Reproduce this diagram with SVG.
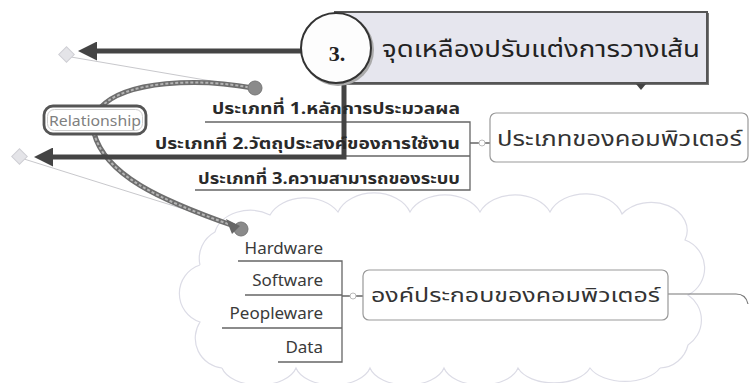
<svg xmlns="http://www.w3.org/2000/svg" width="750" height="383" viewBox="0 0 750 383">
<style>
.thai{font-family:"Noto Sans Thai","Noto Sans","DejaVu Sans",sans-serif}
.item{font-size:16px;font-weight:bold;fill:#2a2a2a}
.sub{font-family:"Noto Sans","Open Sans",sans-serif;font-size:17px;fill:#3a3a3a}
.uline{stroke:#666;stroke-width:1.3;fill:none}
.ctrl{stroke:#c8c8cc;stroke-width:1;fill:none}
.node{fill:#fff;stroke:#999;stroke-width:1.2}
.big{stroke:#444;stroke-width:5;fill:none}
.cl{fill:none;stroke:#dcdce6;stroke-width:1.2}
.rel{fill:none;stroke:#6e6e6e;stroke-width:5}
.reld{fill:none;stroke:#b5b5b5;stroke-width:2;stroke-dasharray:3 2}
</style>
<defs>
<marker id="ah" viewBox="0 0 10 10" refX="0" refY="5" markerWidth="4.2" markerHeight="3.8" orient="auto" markerUnits="strokeWidth">
<path d="M0,0 L10,5 L0,10 Z" fill="#444"/>
</marker>
</defs>
<g id="cloud">
<path class="cl" d="M215,232 A36,28 0 0 1 270,215 A38,28 0 0 1 338,212 A38,28 0 0 1 410,212 A38,28 0 0 1 480,212 A38,28 0 0 1 550,212 A38,28 0 0 1 622,214 A36,28 0 0 1 685,240 A30,30 0 0 1 688,295 A30,30 0 0 1 688,345 A30,30 0 0 1 660,368 M200,265 A30,30 0 0 1 215,232 M200,265 A30,30 0 0 0 200,322 A30,30 0 0 0 222,368"/>
<path class="cl" d="M222,368 A38,22 0 0 0 296,368 A38,22 0 0 0 370,368 A38,22 0 0 0 444,368 A38,22 0 0 0 518,368 A38,22 0 0 0 590,368 A38,22 0 0 0 660,368"/>
</g>
<g id="connectors">
<line class="ctrl" x1="71" y1="57" x2="252" y2="88"/>
<line class="ctrl" x1="24" y1="159" x2="238" y2="226"/>
<path d="M205,122 H470 V190 H195 M150,156 H470 M470,143 H490" class="uline"/>
<path d="M238,261 H342 V362 H278 M245,295 H342 M222,328 H342 M342,296 H363" class="uline"/>
<path d="M668,294 H736 Q746,294 748,304" fill="none" stroke="#777" stroke-width="1.2"/>
<circle cx="482" cy="143" r="3" fill="#fff" stroke="#bbb"/>
<circle cx="353" cy="296" r="3" fill="#fff" stroke="#bbb"/>
<path class="rel" d="M253,88 C200,78 125,80 100,108"/>
<path class="reld" d="M253,88 C200,78 125,80 100,108"/>
<path class="rel" d="M94,133 C105,175 160,200 234,226"/>
<path class="reld" d="M94,133 C105,175 160,200 234,226"/>
<circle cx="255" cy="88" r="7" fill="#8a8a8a" stroke="#777"/>
<circle cx="241" cy="229" r="7" fill="#8a8a8a" stroke="#777"/>
<path d="M226,219 L240,226 L232,234 Z" fill="#666"/>
<path d="M302,51 H97" class="big" marker-end="url(#ah)"/>
<path d="M344,84 V157 H53" class="big" marker-end="url(#ah)"/>
<rect x="61" y="49" width="11" height="11" transform="rotate(45 66.5 54.5)" fill="#e4e4e8" stroke="#cfcfd4"/>
<rect x="14" y="151" width="11" height="11" transform="rotate(45 19.5 156.5)" fill="#e4e4e8" stroke="#cfcfd4"/>
</g>
<g id="relationship">
<rect x="44" y="106" width="102" height="28" rx="9" fill="#fff" stroke="#555" stroke-width="2.8"/>
<rect x="47.5" y="109.5" width="95" height="21" rx="7" fill="none" stroke="#ccc" stroke-width="1"/>
<text x="95" y="125.5" text-anchor="middle" font-family="Noto Sans,sans-serif" font-size="15" fill="#808080" textLength="92" lengthAdjust="spacingAndGlyphs">Relationship</text>
</g>
<g id="callout">
<rect x="336" y="13" width="373" height="72" fill="#777"/>
<rect x="335" y="12" width="372" height="71" fill="#e6e6ee" stroke="#555" stroke-width="2"/>
<path d="M636,84 L641,90 L646,84 Z" fill="#444"/>
<circle cx="338" cy="50" r="36" fill="#aaa"/>
<circle cx="336" cy="48" r="35" fill="#fdfdfd" stroke="#333" stroke-width="2"/>
<text x="337" y="61" text-anchor="middle" font-family="Liberation Serif,serif" font-weight="bold" font-size="22" fill="#222">3.</text>
<text x="382" y="57" class="thai" font-size="23" fill="#222" textLength="318" lengthAdjust="spacingAndGlyphs">จุดเหลืองปรับแต่งการวางเส้น</text>
</g>
<g id="types">
<text class="thai item" x="212" y="114" textLength="248" lengthAdjust="spacingAndGlyphs">ประเภทที่ 1.หลักการประมวลผล</text>
<text class="thai item" x="155" y="149" textLength="305" lengthAdjust="spacingAndGlyphs">ประเภทที่ 2.วัตถุประสงค์ของการใช้งาน</text>
<text class="thai item" x="198" y="184" textLength="262" lengthAdjust="spacingAndGlyphs">ประเภทที่ 3.ความสามารถของระบบ</text>
</g>
<g id="node-types">
<rect class="node" x="490" y="113" width="258" height="49" rx="6"/>
<text x="497" y="146" class="thai" font-size="21" fill="#333" textLength="245" lengthAdjust="spacingAndGlyphs">ประเภทของคอมพิวเตอร์</text>
</g>
<g id="components">
<text class="sub" x="323" y="254" text-anchor="end">Hardware</text>
<text class="sub" x="323" y="286" text-anchor="end">Software</text>
<text class="sub" x="323" y="319" text-anchor="end">Peopleware</text>
<text class="sub" x="323" y="353" text-anchor="end">Data</text>
</g>
<g id="node-components">
<rect class="node" x="363" y="270" width="305" height="50" rx="6"/>
<text x="371" y="302" class="thai" font-size="20" fill="#333" textLength="289" lengthAdjust="spacingAndGlyphs">องค์ประกอบของคอมพิวเตอร์</text>
</g>
</svg>
